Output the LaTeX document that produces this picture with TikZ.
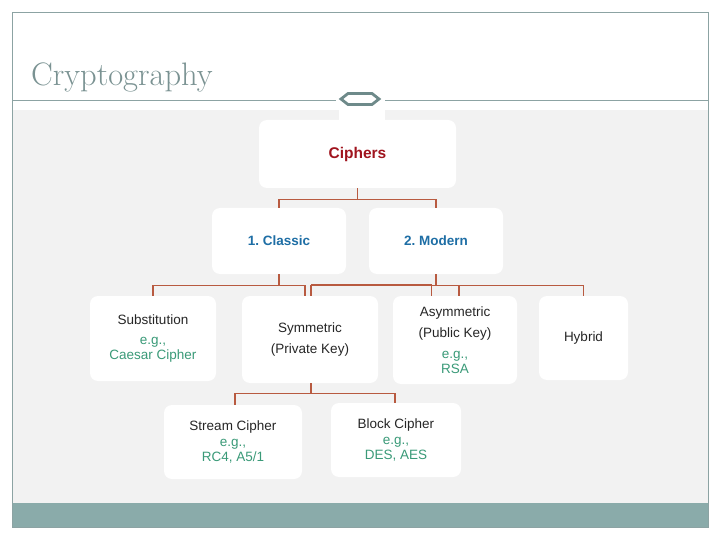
\documentclass[tikz,border=0pt]{standalone}
\usepackage{fontspec}
\setsansfont{Liberation Sans}
\usetikzlibrary{calc}
\definecolor{framec}{HTML}{8CA3A3}
\definecolor{bandc}{HTML}{8AABAA}
\definecolor{titlec}{HTML}{7A9292}
\definecolor{hexc}{HTML}{6E8A8A}
\definecolor{bgpat}{HTML}{F2F2F2}
\definecolor{connc}{HTML}{B85A40}
\definecolor{redt}{HTML}{A0141E}
\definecolor{bluet}{HTML}{1E6EA5}
\definecolor{greent}{HTML}{3A9A78}
\begin{document}
\frenchspacing
\begin{tikzpicture}[x=1pt,y=-1pt,
  box/.style={fill=white, rounded corners=8pt, inner sep=0pt, align=center,
    font=\sffamily\fontsize{13.5}{15.5}\selectfont, text=black!85},
  conn/.style={draw=connc, line width=1.3pt}]
\useasboundingbox (0,0) rectangle (720,540);
% background and frame
\fill[bgpat] (12,110) rectangle (708,503);
\fill[white] (339,110) rectangle (385,121);
\fill[bandc] (12,503) rectangle (708,527);
\draw[framec, line width=0.8pt] (12,12) rectangle (708,527);
\draw[framec, line width=0.8pt] (12,100) -- (336,100);
\draw[framec, line width=0.8pt] (385,100) -- (708,100);
\draw[hexc, line width=2.8pt, fill=white, line join=miter]
  (341,99) -- (348,93.5) -- (372,93.5) -- (379,99) -- (372,104.5) -- (348,104.5) -- cycle;
\node[anchor=base west, inner sep=0pt, text=titlec,
  font=\rmfamily\fontsize{32.5}{36}\selectfont] (title) at (31,86) {Cryptography};
% boxes
\node[box, minimum width=197pt, minimum height=68pt, text=redt,
  font=\sffamily\bfseries\fontsize{15.5}{18}\selectfont] (ciphers) at (357.5,154) {Ciphers};
\node[box, minimum width=134pt, minimum height=66pt, text=bluet,
  font=\sffamily\bfseries\fontsize{13.5}{16}\selectfont] (classic) at (279,241) {1. Classic};
\node[box, minimum width=134pt, minimum height=66pt, text=bluet,
  font=\sffamily\bfseries\fontsize{13.5}{16}\selectfont] (modern) at (436,241) {2. Modern};
\node[box, minimum width=126pt, minimum height=85pt] (subst) at (153,338.5)
  {Substitution\\[4.5pt]\textcolor{greent}{e.g.,}\\\textcolor{greent}{Caesar Cipher}};
\node[box, minimum width=136pt, minimum height=87pt] (sym) at (310,339.5)
  {Symmetric\\[5.5pt](Private Key)};
\node[box, minimum width=124pt, minimum height=88pt] (asym) at (455,340)
  {Asymmetric\\[5.5pt](Public Key)\\[5.5pt]\textcolor{greent}{e.g.,}\\\textcolor{greent}{RSA}};
\node[box, minimum width=89pt, minimum height=84pt] (hybrid) at (583.5,338) {Hybrid};
\node[box, minimum width=138pt, minimum height=74pt] (stream) at (233,442)
  {Stream Cipher\\\textcolor{greent}{e.g.,}\\\textcolor{greent}{RC4, A5/1}};
\node[box, minimum width=130pt, minimum height=74pt] (block) at (396,440)
  {Block Cipher\\[0.5pt]\textcolor{greent}{e.g.,}\\\textcolor{greent}{DES, AES}};
% junction coordinates
\coordinate (cbar) at ($(ciphers.south)+(0,11)$);
\coordinate (lbar) at ($(classic.south)+(0,11)$);
\coordinate (mbar) at ($(modern.south)+(0,11)$);
\coordinate (sbar) at ($(sym.south)+(1,10)$);
\coordinate (symL) at ($(sym.north)+(-5,0)$);
\coordinate (symR) at ($(sym.north)+(1,0)$);
\coordinate (asymX) at ($(asym.north west)+(39,0)$);
\coordinate (asymT) at ($(asym.north)+(4,0)$);
% connectors
\draw[conn] (ciphers.south) -- (cbar);
\draw[conn] (classic.north) |- (cbar) -| (modern.north);
\draw[conn] (classic.south) -- (lbar);
\draw[conn] (subst.north) |- (lbar) -| (symL);
\draw[conn] (modern.south) -- (mbar);
\draw[conn] (symR) |- (mbar) -| (hybrid.north);
\draw[connc, line width=2pt] (symR |- mbar) -- (asymX |- mbar);
\draw[conn] (asymX) -- (asymX |- mbar);
\draw[conn] (asymT) -- (asymT |- mbar);
\draw[conn] ($(sym.south)+(1,0)$) -- (sbar);
\draw[conn] ($(stream.north)+(2,0)$) |- (sbar) -| ($(block.north)+(-1,0)$);
\end{tikzpicture}
\end{document}
